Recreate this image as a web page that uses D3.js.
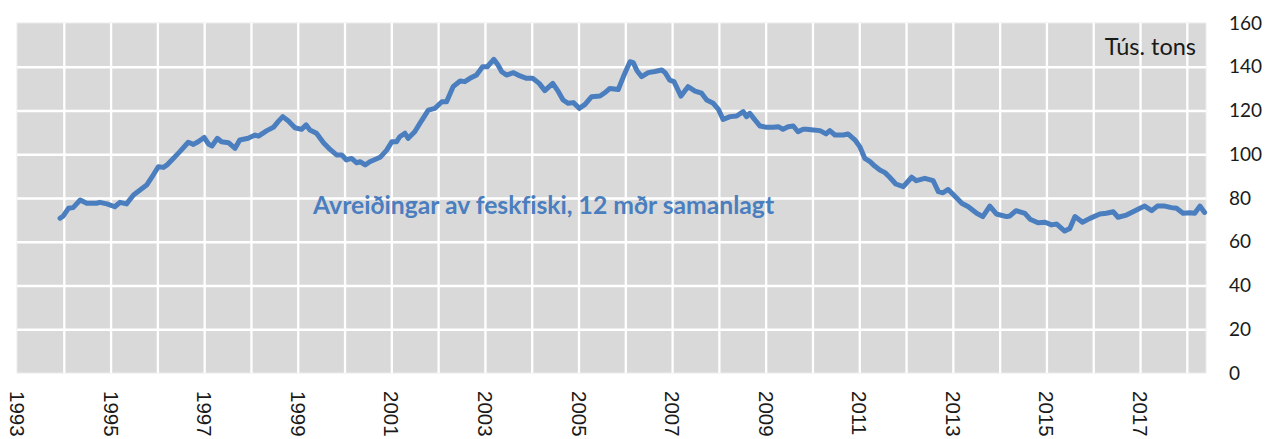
<!DOCTYPE html>
<html>
<head>
<meta charset="utf-8">
<script src="https://cdn.jsdelivr.net/npm/d3@7"></script>
<style>
  html, body { margin: 0; padding: 0; background: #ffffff; }
  svg { display: block; }
  text { font-variant-ligatures: none; font-feature-settings: "liga" 0; }
</style>
</head>
<body>
<svg id="chart" width="1269" height="439"></svg>
<script>
// ---- data ----
const dates = [
  1993.92, 1993.99, 1994.10, 1994.20, 1994.35, 1994.49, 1994.70, 1994.77, 1994.92,
  1995.09, 1995.20, 1995.34, 1995.49, 1995.63, 1995.77, 1995.91,
  1996.02, 1996.13, 1996.20, 1996.34, 1996.48, 1996.66, 1996.77, 1996.87,
  1997.00, 1997.09, 1997.17, 1997.28, 1997.37, 1997.52, 1997.66, 1997.76, 1997.94,
  1998.09, 1998.16, 1998.34, 1998.48, 1998.58, 1998.68, 1998.80, 1998.94,
  1999.08, 1999.18, 1999.26, 1999.40, 1999.55, 1999.69, 1999.83, 1999.94,
  2000.04, 2000.15, 2000.26, 2000.33, 2000.44, 2000.54, 2000.76, 2000.90,
  2001.01, 2001.11, 2001.18, 2001.29, 2001.36, 2001.50, 2001.61, 2001.79, 2001.93,
  2002.08, 2002.18, 2002.32, 2002.47, 2002.57, 2002.68, 2002.82, 2002.95,
  2003.05, 2003.19, 2003.28, 2003.36, 2003.46, 2003.61, 2003.75, 2003.89,
  2004.02, 2004.16, 2004.28, 2004.45, 2004.57, 2004.67, 2004.78, 2004.89,
  2005.02, 2005.14, 2005.28, 2005.46, 2005.56, 2005.67, 2005.85, 2005.96,
  2006.10, 2006.17, 2006.25, 2006.35, 2006.49, 2006.63, 2006.78, 2006.85, 2006.95,
  2007.04, 2007.19, 2007.34, 2007.49, 2007.63, 2007.74, 2007.88, 2007.99,
  2008.09, 2008.24, 2008.38, 2008.52, 2008.59, 2008.66, 2008.77, 2008.88,
  2009.02, 2009.16, 2009.27, 2009.37, 2009.48, 2009.59, 2009.69, 2009.80, 2009.87,
  2010.02, 2010.16, 2010.29, 2010.37, 2010.48, 2010.66, 2010.76, 2010.91,
  2011.01, 2011.12, 2011.23, 2011.33, 2011.44, 2011.55, 2011.65, 2011.78, 2011.94,
  2012.12, 2012.22, 2012.40, 2012.58, 2012.69, 2012.79, 2012.90,
  2013.04, 2013.19, 2013.33, 2013.51, 2013.64, 2013.79, 2013.93,
  2014.15, 2014.22, 2014.35, 2014.54, 2014.65, 2014.82, 2014.97,
  2015.11, 2015.22, 2015.39, 2015.50, 2015.61, 2015.77, 2015.93,
  2016.14, 2016.28, 2016.43, 2016.53, 2016.71, 2016.85,
  2017.00, 2017.10, 2017.25, 2017.37, 2017.53, 2017.67, 2017.78, 2017.92,
  2018.06, 2018.17, 2018.28, 2018.38
];
const landings = [
  70.7, 71.8, 75.3, 75.6, 79.1, 77.6, 77.6, 78.0, 77.3,
  76.0, 78.0, 77.3, 81.4, 83.7, 85.9, 90.5,
  94.3, 94.0, 95.0, 98.1, 101.2, 105.5, 104.5, 105.7,
  107.7, 104.7, 103.8, 107.3, 105.7, 105.3, 102.7, 106.5, 107.3,
  108.8, 108.3, 110.8, 112.3, 114.9, 117.2, 115.2, 112.1,
  111.4, 113.4, 111.1, 109.6, 105.3, 102.2, 99.7, 99.7,
  97.4, 98.1, 96.1, 96.6, 95.1, 96.6, 98.6, 101.9,
  105.7, 105.7, 108.0, 109.6, 107.3, 110.3, 114.1, 120.2, 121.0,
  124.0, 124.0, 130.9, 133.5, 133.2, 134.7, 136.2, 140.0,
  140.0, 143.4, 140.8, 137.7, 136.2, 137.3, 135.8, 134.7,
  134.7, 132.4, 129.1, 132.4, 128.6, 124.8, 123.3, 123.6,
  121.0, 122.8, 126.3, 126.6, 128.1, 130.1, 129.6, 135.5,
  142.3, 141.9, 138.2, 135.5, 137.3, 137.8, 138.5, 137.3, 133.9,
  133.2, 126.6, 130.9, 128.9, 127.9, 124.8, 123.3, 120.5,
  115.9, 117.2, 117.5, 119.5, 117.2, 118.7, 115.7, 112.9,
  112.3, 112.3, 112.6, 111.4, 112.6, 112.9, 110.3, 111.4, 111.4,
  111.1, 110.8, 109.3, 110.8, 108.8, 108.8, 109.3, 106.5,
  103.5, 98.1, 96.6, 94.6, 92.8, 91.6, 89.5, 86.4, 85.2,
  89.5, 87.9, 89.0, 87.9, 82.9, 82.4, 83.9,
  80.9, 77.6, 76.0, 73.0, 71.5, 76.3, 72.7,
  71.5, 71.8, 74.2, 73.0, 70.3, 68.7, 68.9,
  67.7, 68.1, 64.9, 66.1, 71.5, 68.9, 70.7,
  72.7, 73.0, 73.7, 71.2, 72.2, 73.7,
  75.3, 76.3, 74.2, 76.3, 76.3, 75.6, 75.3, 73.0,
  73.3, 73.0, 76.3, 73.4
];
const gridYears = [1994,1995,1996,1997,1998,1999,2000,2001,2002,2003,2004,2005,2006,
                   2007,2008,2009,2010,2011,2012,2013,2014,2015,2016,2017,2018];
const yearLabels = [1993,1995,1997,1999,2001,2003,2005,2007,2009,2011,2013,2015,2017];
const valueTicks = [0,20,40,60,80,100,120,140,160];
const unitLabel = "Tús. tons";
const seriesLabel = "Avreiðingar av feskfiski, 12 mðr samanlagt";

// ---- layout ----
const plot = { left: 17, right: 1206, top: 23, bottom: 373 };
const svg = d3.select("#chart");

const x = d3.scaleLinear().domain([1993, 2018.41]).range([plot.left, plot.right]);
const y = d3.scaleLinear().domain([0, 160]).range([plot.bottom, plot.top]);

// plot background
svg.append("rect")
  .attr("x", plot.left).attr("y", plot.top)
  .attr("width", plot.right - plot.left).attr("height", plot.bottom - plot.top)
  .attr("fill", "#d9d9d9")
  .attr("stroke", "#ececec").attr("stroke-width", 1);

// vertical grid
const vGrid = svg.append("g")
  .attr("transform", `translate(0,${plot.bottom})`)
  .call(d3.axisBottom(x).tickValues(gridYears).tickSize(-(plot.bottom - plot.top)).tickFormat(""));
vGrid.select(".domain").remove();
vGrid.selectAll("line").attr("stroke", "#ffffff").attr("stroke-width", 2.3);

// horizontal grid
const hGrid = svg.append("g")
  .attr("transform", `translate(${plot.left},0)`)
  .call(d3.axisRight(y).tickValues(valueTicks.filter(v => v > 0 && v < 160))
        .tickSize(plot.right - plot.left).tickFormat(""));
hGrid.select(".domain").remove();
hGrid.selectAll("line").attr("stroke", "#ffffff").attr("stroke-width", 2.3);

// right value axis labels
const yAxis = svg.append("g")
  .attr("transform", `translate(${plot.right},0)`)
  .call(d3.axisRight(y).tickValues(valueTicks).tickSize(0).tickPadding(23));
yAxis.select(".domain").remove();
yAxis.selectAll("text")
  .attr("font-family", "Lato, 'Liberation Sans', sans-serif")
  .attr("font-size", 19)
  .attr("fill", "#1a1a1a")
  .attr("text-anchor", "start");

// bottom year labels (rotated)
const xAxis = svg.append("g")
  .attr("transform", `translate(0,${plot.bottom})`)
  .call(d3.axisBottom(x).tickValues(yearLabels).tickSize(0).tickFormat(d3.format("d")));
xAxis.select(".domain").remove();
xAxis.selectAll("text")
  .attr("font-family", "'Liberation Sans', Arial, sans-serif")
  .attr("font-size", 20.5)
  .attr("fill", "#1a1a1a")
  .attr("text-anchor", "start")
  .attr("dominant-baseline", "central")
  .attr("dy", null)
  .attr("y", 0)
  .attr("transform", "translate(0,18) rotate(90)");

// series line
const line = d3.line()
  .x((d, i) => x(dates[i]))
  .y(d => y(d));
svg.append("path")
  .datum(landings)
  .attr("fill", "none")
  .attr("stroke", "#4a7ebf")
  .attr("stroke-width", 5)
  .attr("stroke-linejoin", "round")
  .attr("stroke-linecap", "round")
  .attr("d", line);

// unit label
svg.append("text")
  .attr("x", 1196).attr("y", 55)
  .attr("text-anchor", "end")
  .attr("font-family", "Lato, 'Liberation Sans', sans-serif")
  .attr("font-size", 23.5)
  .attr("fill", "#1a1a1a")
  .text(unitLabel);

// series annotation
svg.append("text")
  .attr("x", 313).attr("y", 214)
  .attr("font-family", "Lato, 'Liberation Sans', sans-serif")
  .attr("font-weight", "bold")
  .attr("font-size", 24.7)
  .attr("fill", "#4a7ebf")
  .text(seriesLabel);
</script>
</body>
</html>
